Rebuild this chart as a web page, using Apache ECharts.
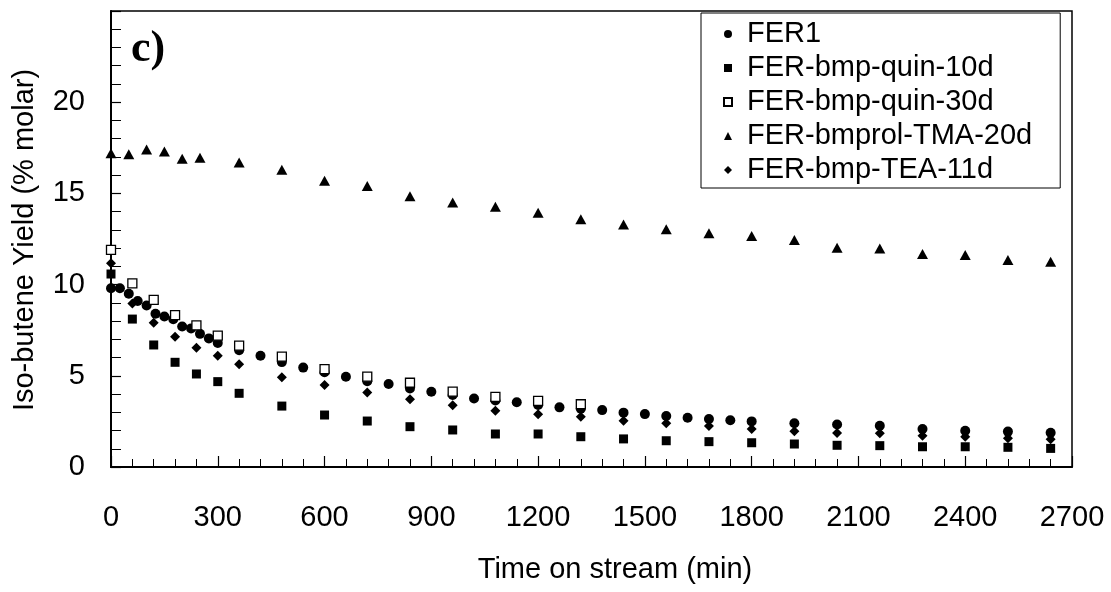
<!DOCTYPE html>
<html>
<head>
<meta charset="utf-8">
<script src="https://cdn.jsdelivr.net/npm/echarts@6/dist/echarts.min.js"></script>
<style>
html,body{margin:0;padding:0;background:#fff;}
#c{width:1111px;height:592px;}
</style>
</head>
<body>
<div id="c"></div>
<script>
// ---- data (time in min, yield in % molar) ----
const seriesNames = ['FER1', 'FER-bmp-quin-10d', 'FER-bmp-quin-30d', 'FER-bmprol-TMA-20d', 'FER-bmp-TEA-11d'];

const fer1Time = [0,25,50,75,100,125,150,175,200,225,250,275,300,360,420,480,540,600,660,720,780,840,900,960,1020,1080,1140,1200,1260,1320,1380,1440,1500,1560,1620,1680,1740,1800,1920,2040,2160,2280,2400,2520,2640];
const fer1Yield = [9.8,9.8,9.5,9.1,8.85,8.4,8.25,8.1,7.7,7.6,7.3,7.05,6.8,6.4,6.1,5.75,5.45,5.2,4.95,4.7,4.55,4.3,4.13,3.95,3.76,3.65,3.55,3.4,3.27,3.2,3.12,2.98,2.9,2.8,2.7,2.63,2.56,2.5,2.4,2.33,2.26,2.08,1.99,1.94,1.88];

const quin10Time = [0,60,120,180,240,300,360,480,600,720,840,960,1080,1200,1320,1440,1560,1680,1800,1920,2040,2160,2280,2400,2520,2640];
const quin10Yield = [10.58,8.11,6.69,5.74,5.1,4.68,4.04,3.34,2.85,2.52,2.21,2.03,1.81,1.81,1.66,1.54,1.44,1.39,1.33,1.26,1.19,1.17,1.11,1.11,1.08,1.02];

const quin30Time = [0,60,120,180,240,300,360,480,600,720,840,960,1080,1200,1320];
const quin30Yield = [11.9,10.07,9.16,8.33,7.77,7.2,6.65,6.05,5.37,4.95,4.62,4.13,3.85,3.63,3.44];

const tmaTime = [0,50,100,150,200,250,360,480,600,720,840,960,1080,1200,1320,1440,1560,1680,1800,1920,2040,2160,2280,2400,2520,2640];
const tmaYield = [17.2,17.15,17.4,17.3,16.9,16.95,16.7,16.3,15.7,15.4,14.85,14.5,14.27,13.94,13.58,13.3,13.03,12.81,12.66,12.44,12.02,11.98,11.68,11.62,11.35,11.25];

const teaTime = [0,60,120,180,240,300,360,480,600,720,840,960,1080,1200,1320,1440,1560,1680,1800,1920,2040,2160,2280,2400,2520,2640];
const teaYield = [11.17,8.97,7.91,7.14,6.54,6.1,5.63,4.92,4.5,4.08,3.71,3.38,3.09,2.89,2.76,2.54,2.4,2.25,2.08,1.96,1.87,1.85,1.72,1.66,1.57,1.52];

const xTitle = 'Time on stream (min)';
const yTitle = 'Iso-butene Yield (% molar)';
const panelLabel = 'c)';

function pairs(t, v) { return t.map((x, i) => [x, v[i]]); }

const FONT = "'Liberation Sans', Arial, sans-serif";
const chart = echarts.init(document.getElementById('c'), null, {renderer: 'canvas'});

const common = {type: 'scatter', animation: false, z: 3};
const solid = {color: '#000', opacity: 1};
const option = {
  backgroundColor: '#fff',
  animation: false,
  grid: {left: 111, right: 39, top: 11, bottom: 125, show: true, borderColor: '#000', borderWidth: 1.5, backgroundColor: 'transparent'},
  xAxis: {
    type: 'value', min: 0, max: 2700, interval: 300,
    axisLine: {show: true, lineStyle: {color: '#000', width: 2}},
    axisTick: {show: true, inside: true, length: 11, lineStyle: {color: '#000', width: 1.2}},
    minorTick: {show: true, splitNumber: 5, length: 8, lineStyle: {color: '#000', width: 1}},
    splitLine: {show: false},
    axisLabel: {color: '#000', fontFamily: FONT, fontSize: 29, margin: 36, showMaxLabel: true, showMinLabel: true,
      formatter: v => String(v)}
  },
  yAxis: {
    type: 'value', min: 0, max: 25, interval: 5,
    axisLine: {show: true, lineStyle: {color: '#000', width: 2}},
    axisTick: {show: true, inside: true, length: 10, lineStyle: {color: '#000', width: 1.2}},
    minorTick: {show: true, splitNumber: 5, length: 10, lineStyle: {color: '#000', width: 1}},
    splitLine: {show: false},
    axisLabel: {color: '#000', fontFamily: FONT, fontSize: 29, margin: 26,
      formatter: v => (v === 25 ? '' : String(v))}
  },
  legend: {
    orient: 'vertical', left: 701, top: 13,
    padding: [4, 28, 1, 22],
    itemGap: 0, itemWidth: 8, itemHeight: 8,
    borderColor: '#000', borderWidth: 1, backgroundColor: '#fff',
    textStyle: {color: '#000', fontFamily: FONT, fontSize: 29, lineHeight: 34, padding: [0, 0, 0, 10]},
    data: seriesNames
  },
  graphic: [
    {type: 'text', x: 615, y: 570, style: {text: xTitle, font: "29px " + FONT, fill: '#000', align: 'center', verticalAlign: 'middle'}},
    {type: 'text', x: 25, y: 240, rotation: Math.PI / 2, style: {text: yTitle, font: "29px " + FONT, fill: '#000', align: 'center', verticalAlign: 'middle'}},
    {type: 'text', x: 131, y: 50, style: {text: panelLabel, font: "bold 44px 'Liberation Serif', 'Times New Roman', serif", fill: '#000', align: 'left', verticalAlign: 'middle'}}
  ],
  series: [
    Object.assign({}, common, {name: seriesNames[0], symbol: 'circle', symbolSize: 10, itemStyle: solid, data: pairs(fer1Time, fer1Yield)}),
    Object.assign({}, common, {name: seriesNames[1], symbol: 'rect', symbolSize: 9, itemStyle: solid, data: pairs(quin10Time, quin10Yield)}),
    Object.assign({}, common, {name: seriesNames[2], symbol: 'rect', symbolSize: 9, itemStyle: {color: '#fff', opacity: 1, borderColor: '#000', borderWidth: 1.3}, data: pairs(quin30Time, quin30Yield)}),
    Object.assign({}, common, {name: seriesNames[3], symbol: 'triangle', symbolSize: [11, 10], itemStyle: solid, data: pairs(tmaTime, tmaYield)}),
    Object.assign({}, common, {name: seriesNames[4], symbol: 'diamond', symbolSize: 10, itemStyle: solid, data: pairs(teaTime, teaYield)})
  ]
};
chart.setOption(option);
</script>
</body>
</html>
